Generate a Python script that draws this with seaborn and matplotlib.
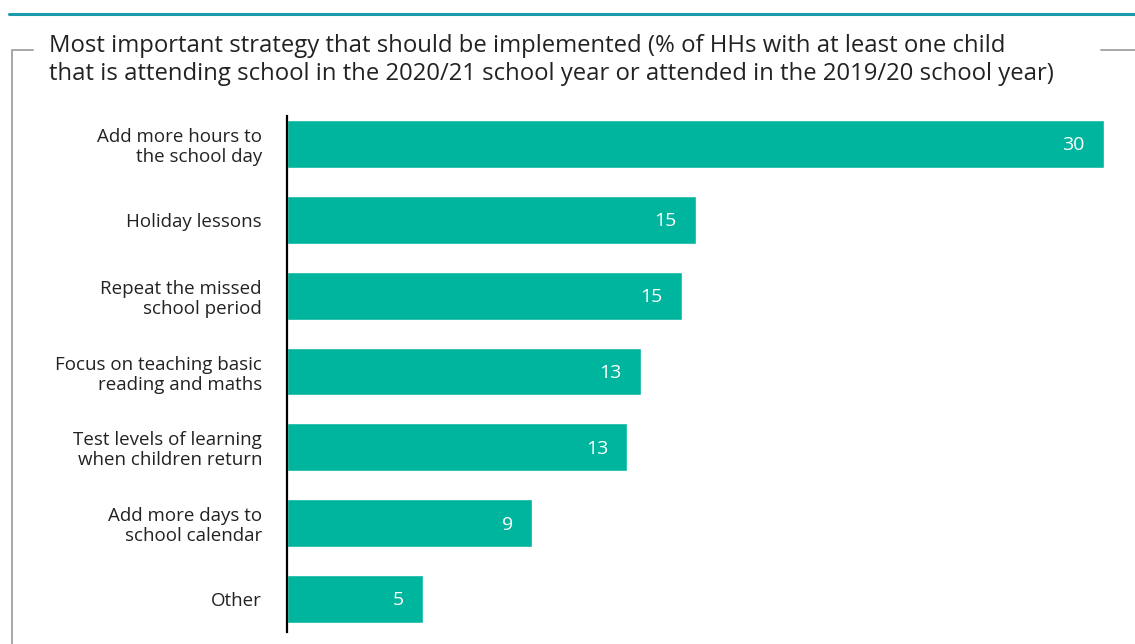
import math
import matplotlib
matplotlib.use("Agg")
import matplotlib.pyplot as plt
from matplotlib.lines import Line2D
import pandas as pd
import seaborn as sns

# Survey responses: most important catch-up strategy (% of households)
strategies = [
    "Add more hours to\nthe school day",
    "Holiday lessons",
    "Repeat the missed\nschool period",
    "Focus on teaching basic\nreading and maths",
    "Test levels of learning\nwhen children return",
    "Add more days to\nschool calendar",
    "Other",
]
shares = [30.0, 15.0, 14.5, 13.0, 12.5, 9.0, 5.0]

title_lines = [
    "Most important strategy that should be implemented (% of HHs with at least one child",
    "that is attending school in the 2020/21 school year or attended in the 2019/20 school year)",
]

BAR = "#00b59d"
TEAL_RULE = "#1a9aad"
FRAME = "#a6a6a6"
INK = "#222222"

sns.set_theme(style="white")
plt.rcParams["font.family"] = ["Open Sans", "DejaVu Sans"]

W, H = 1135, 644
fig = plt.figure(figsize=(W / 100, H / 100), dpi=100)

# Axes placed in pixel terms
left, right, top, bottom = 287, 1104, 116, 632
ax = fig.add_axes([left / W, 1 - bottom / H, (right - left) / W, (bottom - top) / H])

df = pd.DataFrame({"strategy": strategies, "share": shares})
sns.barplot(data=df, x="share", y="strategy", color=BAR, saturation=1,
            width=0.63, ax=ax, orient="h")

ax.set_xlim(0, 30)
ax.set_ylim(6.435, -0.37)
ax.set_xlabel("")
ax.set_ylabel("")
ax.set_xticks([])
for s in ["top", "right", "bottom"]:
    ax.spines[s].set_visible(False)
ax.spines["left"].set_color("black")
ax.spines["left"].set_linewidth(1.6)
ax.tick_params(axis="y", length=0, pad=18, labelsize=13.5, labelcolor=INK)
for lbl in ax.get_yticklabels():
    lbl.set_linespacing(1.15)
    lbl.set_multialignment("right")

# Value labels inside bar ends (rounded half up)
for i, v in enumerate(shares):
    txt = str(int(math.floor(v + 0.5)))
    ax.annotate(txt, xy=(v, i), xytext=(-14, -1), textcoords="offset points",
                ha="right", va="center", color="white", fontsize=14)

# Top rule and frame bracket
fig.add_artist(Line2D([9 / W, 1.0], [1 - 13.5 / H, 1 - 13.5 / H],
                      color=TEAL_RULE, lw=2.2, transform=fig.transFigure))
fig.add_artist(Line2D([33 / W, 12 / W, 12 / W], [1 - 50 / H, 1 - 50 / H, 0.0],
                      color=FRAME, lw=1.4, transform=fig.transFigure))
fig.add_artist(Line2D([1101 / W, 1.0], [1 - 50 / H, 1 - 50 / H],
                      color=FRAME, lw=1.4, transform=fig.transFigure))

fig.text(49 / W, 1 - 52.5 / H, title_lines[0], ha="left", va="baseline",
         fontsize=17.2, color=INK)
fig.text(49 / W, 1 - 80 / H, title_lines[1], ha="left", va="baseline",
         fontsize=17.2, color=INK)

fig.savefig("out.png", dpi=100)
